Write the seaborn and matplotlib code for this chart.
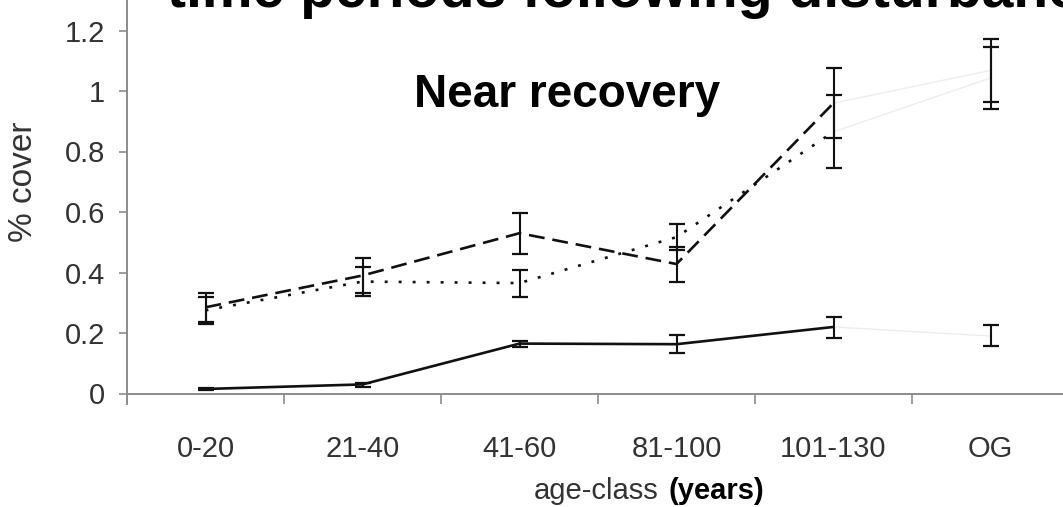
import numpy as np
import pandas as pd
import matplotlib
matplotlib.use("Agg")
import matplotlib.pyplot as plt
import seaborn as sns

categories = ["0-20", "21-40", "41-60", "81-100", "101-130", "OG"]

solid_mean = [0.015, 0.030, 0.165, 0.163, 0.220, 0.190]
solid_lo = [0.012, 0.022, 0.155, 0.134, 0.183, 0.157]
solid_hi = [0.018, 0.036, 0.174, 0.193, 0.253, 0.226]

dashed_mean = [0.285, 0.390, 0.530, 0.428, 0.960, 1.068]
dashed_lo = [0.236, 0.332, 0.461, 0.369, 0.845, 0.963]
dashed_hi = [0.332, 0.448, 0.597, 0.485, 1.076, 1.172]

dotted_mean = [0.275, 0.370, 0.365, 0.517, 0.865, 1.043]
dotted_lo = [0.230, 0.322, 0.319, 0.474, 0.745, 0.940]
dotted_hi = [0.319, 0.418, 0.408, 0.561, 0.987, 1.145]

y_ticks = [0, 0.2, 0.4, 0.6, 0.8, 1.0, 1.2]
y_tick_labels = ["0", "0.2", "0.4", "0.6", "0.8", "1", "1.2"]

title_text = "time periods following disturbance"
subtitle_text = "Near recovery"
ylabel_text = "% cover"
xlabel_main = "age-class"
xlabel_unit = "(years)"

series = {
    "A": (solid_mean, solid_lo, solid_hi),
    "B": (dashed_mean, dashed_lo, dashed_hi),
    "C": (dotted_mean, dotted_lo, dotted_hi),
}

sns.set_theme(style="white")
plt.rcParams["font.family"] = ["Liberation Sans", "DejaVu Sans"]

W, H = 1063, 507
fig = plt.figure(figsize=(W / 100, H / 100), dpi=100)

px_per_unit = 302.5
y_zero_px = 393.5
ymax = y_zero_px / px_per_unit
bottom_px = 404
ymin = -(bottom_px - y_zero_px) / px_per_unit
left_px = 127
cat_w = 157
ax = fig.add_axes([left_px / W, (H - bottom_px) / H, 6 * cat_w / W, bottom_px / H])

pos = np.arange(len(categories))
rows = []
for name, (m, lo, hi) in series.items():
    for i, c in enumerate(categories):
        rows.append({"series": name, "pos": pos[i], "cat": c, "value": m[i],
                     "lo": lo[i], "hi": hi[i]})
df = pd.DataFrame(rows)

line_df = df[df["cat"] != "OG"]
link_df = df[df["cat"].isin(["101-130", "OG"])]

# faint connectors to the OG class
sns.lineplot(data=link_df, x="pos", y="value", units="series", estimator=None,
             color="#ededed", linewidth=1.0, ax=ax, legend=False, sort=False)

sns.lineplot(data=line_df, x="pos", y="value", style="series",
             dashes={"A": "", "B": (6, 3), "C": (1.1, 4.2)},
             color="#111111", linewidth=1.9, ax=ax, legend=False, sort=False)

for name, (m, lo, hi) in series.items():
    m = np.array(m); lo = np.array(lo); hi = np.array(hi)
    ax.errorbar(pos, m, yerr=[m - lo, hi - m], fmt="none", ecolor="#111111",
                elinewidth=1.5, capsize=5.5, capthick=1.6, zorder=3)

ax.set_xlim(-0.5, 5.5)
ax.set_ylim(ymin, ymax)

for s in ["top", "right"]:
    ax.spines[s].set_visible(False)
ax.spines["bottom"].set_position(("data", 0))
for s in ["left", "bottom"]:
    ax.spines[s].set_color("#8c8c8c")
    ax.spines[s].set_linewidth(1.4)

ax.set_yticks(y_ticks)
ax.set_yticklabels(y_tick_labels)
ax.tick_params(axis="y", which="major", left=True, direction="out", length=6,
               width=1.2, color="#8c8c8c", pad=10, labelsize=21, labelcolor="#333333")

ax.set_xticks(pos)
ax.set_xticklabels(categories)
ax.set_xticks(pos + 0.5, minor=True)
ax.tick_params(axis="x", which="major", bottom=True, length=0, pad=30,
               labelsize=21, labelcolor="#333333")
ax.tick_params(axis="x", which="minor", bottom=True, direction="out", length=7.5,
               width=1.2, color="#8c8c8c")
ax.set_xlabel("")
ax.set_ylabel("")
ax.grid(False)

fig.text(167 / W, 1 - 7 / H, title_text, fontsize=41, fontweight="bold",
         ha="left", va="baseline", color="black")
fig.text(567 / W, 1 - 107 / H, subtitle_text, fontsize=33, fontweight="bold",
         ha="center", va="baseline", color="black")
fig.text(24 / W, 1 - 182 / H, ylabel_text, fontsize=24, rotation=90,
         ha="center", va="center", color="#333333")
fig.text(534 / W, 1 - 499 / H, xlabel_main, fontsize=21, ha="left",
         va="baseline", color="#333333")
fig.text(668 / W, 1 - 499 / H, xlabel_unit, fontsize=21, fontweight="bold",
         ha="left", va="baseline", color="black")

fig.savefig("out.png", dpi=100)
